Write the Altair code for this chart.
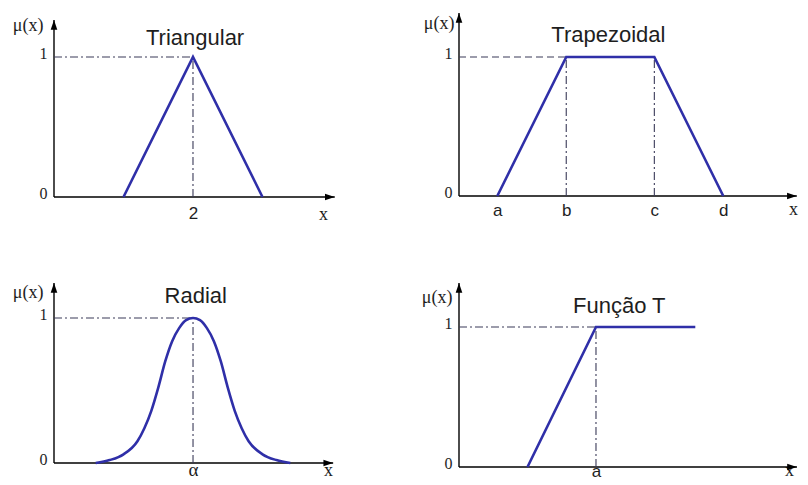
import altair as alt
import pandas as pd

# ---------------- data ----------------
# Triangular
tri_x = [1, 2, 3]
tri_mu = [0, 1, 0]
tri_ticks = [2]
tri_tick_labels = ["2"]

# Trapezoidal
trap_x = [1.0, 2.8, 5.1, 6.9]
trap_mu = [0, 1, 1, 0]
trap_ticks = [1.0, 2.8, 5.1, 6.9]
trap_tick_labels = ["a", "b", "c", "d"]

# Radial (bell shaped)
rad_x = [1.5, 2.0, 2.5, 3.0, 3.25, 3.5, 3.75, 4.0, 4.25, 4.5, 4.75, 5.0,
         5.25, 5.5, 5.75, 6.0, 6.25, 6.5, 6.75, 7.0, 7.5, 8.0, 8.5]
rad_mu = [0.0, 0.02, 0.06, 0.15, 0.24, 0.36, 0.52, 0.70, 0.84, 0.93, 0.985, 1.0,
          0.985, 0.93, 0.84, 0.70, 0.52, 0.36, 0.24, 0.15, 0.06, 0.02, 0.0]
rad_ticks = [5]
rad_tick_labels = ["α"]

# Função T
t_x = [1.0, 2.0, 3.45]
t_mu = [0, 1, 1]
t_ticks = [2.0]
t_tick_labels = ["a"]

mu_ticks = [0, 1]
titles = ["Triangular", "Trapezoidal", "Radial", "Função T"]

# ---------------- style ----------------
BLUE = "#2f2fa8"
GUIDE = "#3a3a58"
INK = "#1e1e1e"
SERIF = "Liberation Serif"
SANS = "Liberation Sans"
DASHDOT = [8, 3, 2, 3]
DASH = [7, 4]
ARROW_RIGHT = "M0,0 L-1,-0.34 L-1,0.34 Z"
ARROW_UP = "M0,0 L-0.34,1 L0.34,1 Z"


def label_expr(vals, labels):
    expr = "''"
    for v, l in reversed(list(zip(vals, labels))):
        expr = f"datum.value == {v} ? '{l}' : ({expr})"
    return expr


def panel(cx, cmu, ticks, tick_labels, tick_font, tick_size, tick_pad,
          title, title_x, title_y, W, H, xmax, ymax, x_end, y_end,
          h_guides, v_guides, h_dash, mu_x, mu_y, xt_x, xt_y,
          interp="linear"):
    xs = alt.Scale(domain=[0, xmax], nice=False, zero=False)
    ys = alt.Scale(domain=[0, ymax], nice=False, zero=False)

    xaxis = alt.Axis(values=ticks, labelExpr=label_expr(ticks, tick_labels),
                     domain=False, ticks=False, tickSize=0, grid=False,
                     labelFont=tick_font, labelFontSize=tick_size,
                     labelPadding=tick_pad, labelBaseline="alphabetic",
                     labelColor=INK, labelFlush=False,
                     title="x", titleFont=SERIF, titleFontSize=18,
                     titleFontWeight="normal", titleColor=INK,
                     titleX=xt_x, titleY=xt_y, titleBaseline="alphabetic",
                     titleAlign="center")
    yaxis = alt.Axis(values=mu_ticks, format="d", domain=False, ticks=False,
                     tickSize=0, grid=False, labelFont=SERIF, labelFontSize=16,
                     labelPadding=7, labelBaseline="alphabetic",
                     labelOffset=1.5, labelColor=INK, labelFlush=False,
                     title="μ(x)", titleAngle=0, titleX=mu_x, titleY=mu_y,
                     titleAlign="right", titleBaseline="middle",
                     titleFont=SERIF, titleFontSize=18,
                     titleFontWeight="normal", titleColor=INK)

    def X(field):
        return alt.X(field, scale=xs, axis=xaxis)

    def Y(field):
        return alt.Y(field, scale=ys, axis=yaxis)

    # axis lines
    ax_df = pd.DataFrame({"x": [0, 0], "x2": [x_end, 0],
                          "y": [0, 0], "y2": [0, y_end]})
    axes = alt.Chart(ax_df).mark_rule(color="black", strokeWidth=1.4).encode(
        x=X("x:Q"), x2="x2:Q", y=Y("y:Q"), y2="y2:Q")

    arr_df = pd.DataFrame({"x": [x_end, 0], "y": [0, y_end],
                           "shape": [ARROW_RIGHT, ARROW_UP]})
    arrows = alt.Chart(arr_df).mark_point(filled=True, color="black",
                                          opacity=1, size=380,
                                          strokeWidth=0).encode(
        x=X("x:Q"), y=Y("y:Q"),
        shape=alt.Shape("shape:N", scale=None, legend=None))

    hg = pd.DataFrame(h_guides, columns=["x", "x2", "y"])
    hlines = alt.Chart(hg).mark_rule(color=GUIDE, strokeWidth=1.1,
                                     strokeDash=h_dash).encode(
        x=X("x:Q"), x2="x2:Q", y=Y("y:Q"))

    vg = pd.DataFrame(v_guides, columns=["x", "y", "y2"])
    vlines = alt.Chart(vg).mark_rule(color=GUIDE, strokeWidth=1.1,
                                     strokeDash=DASHDOT).encode(
        x=X("x:Q"), y=Y("y:Q"), y2="y2:Q")

    curve = alt.Chart(pd.DataFrame({"x": cx, "y": cmu})).mark_line(
        color=BLUE, strokeWidth=2.6, interpolate=interp).encode(
        x=X("x:Q"), y=Y("y:Q"))

    tt = alt.Chart(pd.DataFrame({"x": [title_x], "y": [title_y],
                                 "t": [title]})).mark_text(
        font=SANS, fontSize=22, baseline="alphabetic", align="center",
        color=INK).encode(x=X("x:Q"), y=Y("y:Q"), text="t:N")

    return alt.layer(axes, hlines, vlines, curve, arrows, tt).properties(
        width=W, height=H)


p1 = panel(tri_x, tri_mu, tri_ticks, tri_tick_labels, SANS, 17, 21,
           titles[0], 2.03, 1.086, 290, 187, 4.173, 1.336, 4.04, 1.264,
           [[0, tri_x[1], 1]], [[tri_x[1], 0, 1]], DASHDOT,
           -11, 15, 269, 22)

p2 = panel(trap_x, trap_mu, trap_ticks, trap_tick_labels, SANS, 17, 19,
           titles[1], 3.9, 1.108, 340, 186, 8.877, 1.338, 8.82, 1.317,
           [[0, trap_x[1], 1]], [[trap_x[1], 0, 1], [trap_x[2], 0, 1]], DASH,
           -5, 13.5, 334, 18)

p3 = panel(rad_x, rad_mu, rad_ticks, rad_tick_labels, SERIF, 19, 12,
           titles[2], 5.1, 1.10, 290, 183, 10.43, 1.262, 10.04, 1.241,
           [[0, 5, 1]], [[5, 0, 1]], DASHDOT,
           -11, 12, 274, 12, interp="monotone")

p4 = panel(t_x, t_mu, t_ticks, t_tick_labels, SANS, 17, 9,
           titles[3], 2.34, 1.10, 340, 187, 4.964, 1.336, 4.934, 1.314,
           [[0, t_x[1], 1]], [[t_x[1], 0, 1]], DASHDOT,
           -7, 17, 330, 8)

chart = alt.concat(p1, p2, p3, p4, columns=2,
                   spacing={"row": 83, "column": 65},
                   bounds="flush", align="all", center=False).properties(
    padding={"left": 4, "top": 2, "right": 0, "bottom": 0},
    background="white",
).configure_view(stroke=None)

chart.save("out.html", embed_options={"renderer": "svg", "actions": False})
